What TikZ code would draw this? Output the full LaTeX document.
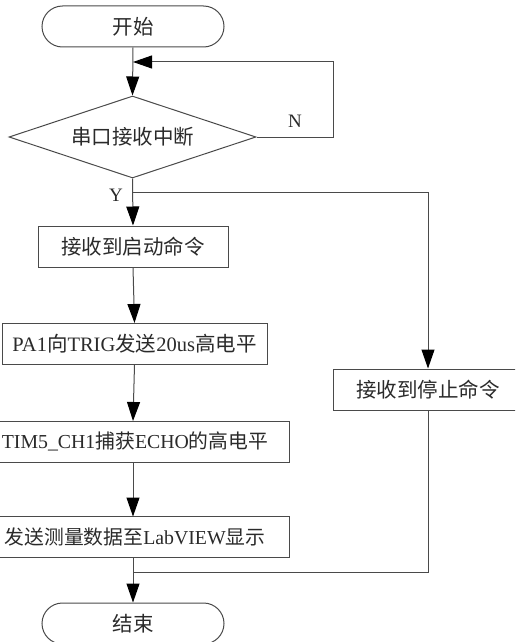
\documentclass[tikz,border=0pt]{standalone}
\usepackage{fontspec}
\setmainfont{Liberation Serif}
\newfontfamily\cjk{Noto Sans CJK SC}
\usetikzlibrary{shapes.geometric,arrows.meta}
\definecolor{linec}{HTML}{4A4A4A}
\definecolor{txtc}{HTML}{2A2A2A}
\begin{document}
\begin{tikzpicture}[x=1pt,y=-1pt,
  every node/.style={text=txtc,font=\fontsize{20.5}{24}\selectfont},
  term/.style={draw=linec,line width=1pt,rectangle,rounded corners=20.5pt,minimum width=182pt,minimum height=41pt,inner sep=0pt},
  proc/.style={draw=linec,line width=1pt,rectangle,minimum height=41pt,inner sep=0pt},
  decis/.style={draw=linec,line width=1pt,diamond,aspect=3,minimum width=247pt,minimum height=82pt,inner sep=0pt},
  conn/.style={draw=linec,line width=1pt},
  arr/.style={conn,-{Triangle[length=19pt,width=13pt,color=black]}},
  lbl/.style={font=\fontsize{19}{22}\selectfont,inner sep=0pt},
  wide/.style={proc,minimum width=308pt,font=\fontsize{19.8}{24}\selectfont}]
\useasboundingbox (0,0) rectangle (515,642);
\clip (0,0) rectangle (515,642);
\node[term] (start) at (133,26.5) {\cjk 开始};
\node[decis] (dec) at (132.5,137) {\cjk 串口接收中断};
\node[proc,minimum width=190pt] (b1) at (133,246.5) {\cjk 接收到启动命令};
\node[proc,minimum width=265pt] (b2) at (134.5,344) {PA1{\cjk 向}TRIG{\cjk 发送}20us{\cjk 高电平}};
\node[proc,minimum width=190pt] (stop) at (428,389.5) {\cjk 接收到停止命令};
\node[wide] (b3) at (135,441.5) {TIM5\_CH1{\cjk 捕获}ECHO{\cjk 的高电平}};
\node[wide] (b4) at (135,537) {{\cjk 发送测量数据至}LabVIEW{\cjk 显示}};
\node[term] (end) at (133,623.5) {\cjk 结束};
\coordinate (j1) at (133,62);
\coordinate (lp) at (333,62);
\coordinate (yb) at (133,192);
\coordinate (mg) at (133,572);
\coordinate (b3n) at (133,421);
\coordinate (b3s) at (133,462);
\coordinate (b4n) at (133,516.5);
\coordinate (b4s) at (133,557.5);
\draw[arr] (start.south) -- (dec.north);
\draw[arr] (dec.east) -| (lp) -- (j1);
\draw[arr] (dec.south) -- (b1.north);
\draw[arr] (yb) -| (stop.north);
\draw[arr] (b1.south) -- (b2.north);
\draw[arr] (b2.south) -- (b3n);
\draw[arr] (b3s) -- (b4n);
\draw[arr] (b4s) -- (end.north);
\draw[conn] (stop.south) |- (mg);
\node[lbl] (nl) at (295,121.5) {N};
\node[lbl] (yl) at (116,195) {Y};
\end{tikzpicture}
\end{document}
